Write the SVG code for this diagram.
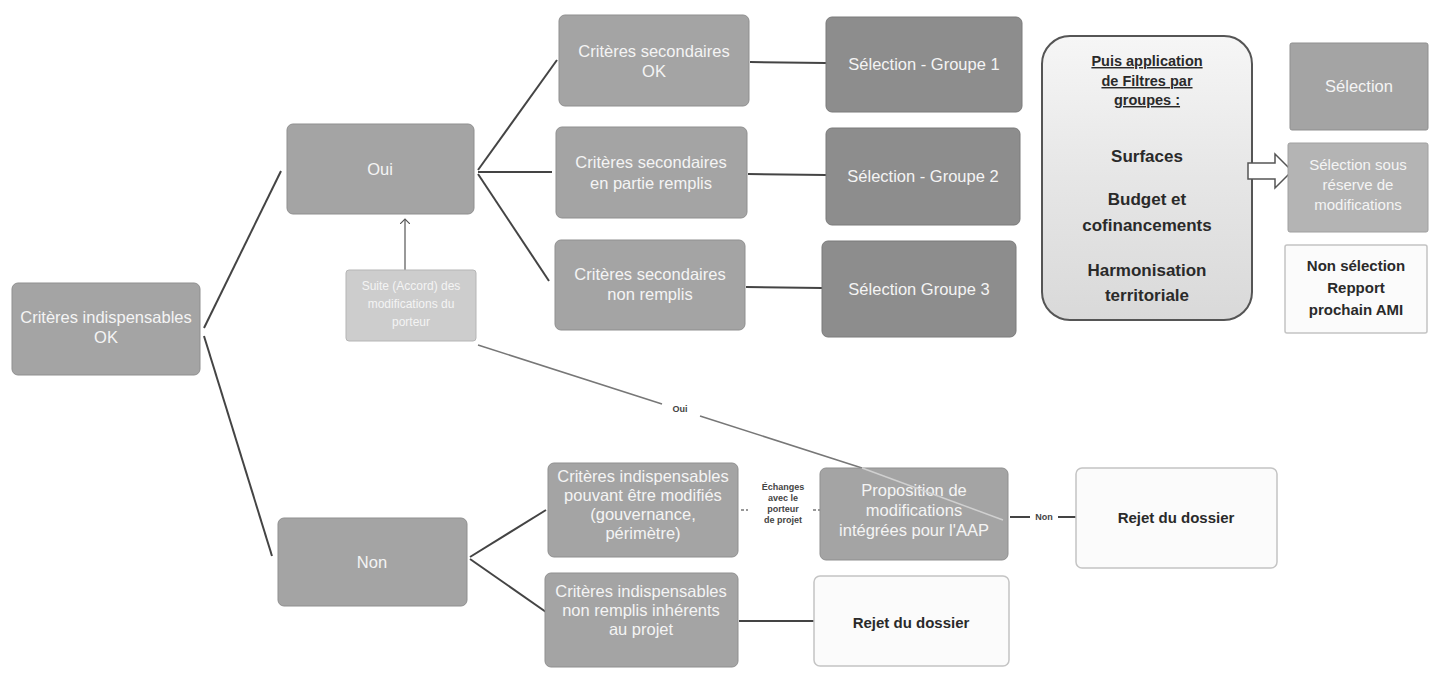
<svg xmlns="http://www.w3.org/2000/svg" width="1431" height="674" viewBox="0 0 1431 674">
<defs>
<style>
.n{fill:#a4a4a4;stroke:#8f8f8f;stroke-width:1}
.d{fill:#8d8d8d;stroke:#7a7a7a;stroke-width:1}
.l{fill:#cdcdcd;stroke:#b5b5b5;stroke-width:1}
.m{fill:#b4b4b4;stroke:#a0a0a0;stroke-width:1}
.w{fill:#fbfbfb;stroke:#c4c4c4;stroke-width:1.5}
.t{font-family:"Liberation Sans",Arial,sans-serif;font-size:16.5px;fill:#f4f4f4;text-anchor:middle}
.ts{font-family:"Liberation Sans",Arial,sans-serif;font-size:12px;fill:#f4f4f4;text-anchor:middle}
.b{font-family:"Liberation Sans",Arial,sans-serif;font-weight:bold;fill:#2a2a2a;text-anchor:middle}
.s{font-family:"Liberation Sans",Arial,sans-serif;font-size:9px;fill:#444;text-anchor:middle}
.c{stroke:#444;stroke-width:2;fill:none}
.cl{stroke:#777;stroke-width:1.5;fill:none}
</style>
<marker id="ah" markerWidth="10" markerHeight="10" refX="5" refY="5" orient="auto" markerUnits="userSpaceOnUse">
<path d="M0,0 L5,5 L0,10" fill="none" stroke="#555" stroke-width="1.2"/>
</marker>
<linearGradient id="fg" x1="0" y1="0" x2="0" y2="1">
<stop offset="0" stop-color="#f6f6f6"/>
<stop offset="0.5" stop-color="#e6e6e6"/>
<stop offset="1" stop-color="#d9d9d9"/>
</linearGradient>
</defs>
<rect width="1431" height="674" fill="#ffffff"/>
<g id="connectors">
<path class="c" d="M204,328 L281,171"/>
<path class="c" d="M204,336 L272,556"/>
<path class="c" d="M478,170 L557,60"/>
<path class="c" d="M478,172 L552,172"/>
<path class="c" d="M478,174 L549,281"/>
<path class="c" d="M750,62 L826,63"/>
<path class="c" d="M748,174 L826,175"/>
<path class="c" d="M746,287 L822,288"/>
<path class="c" d="M470,557 L546,510"/>
<path class="c" d="M470,559 L546,612"/>
<path class="c" d="M739,621 L814,621"/>
<path class="cl" d="M405,270 L405,219" marker-end="url(#ah)"/>
<path class="cl" d="M478,345 L662,404"/>
<path class="cl" d="M700,416 L862,468"/>
<text class="s" x="680" y="412" font-weight="bold">Oui</text>
<path class="cl" d="M741,510 L748,510" stroke-dasharray="3,2"/>
<path class="cl" d="M813,510 L820,510" stroke-dasharray="3,2"/>
<text class="s" x="783" y="490" font-weight="bold">Échanges</text>
<text class="s" x="783" y="501" font-weight="bold">avec le</text>
<text class="s" x="783" y="512" font-weight="bold">porteur</text>
<text class="s" x="783" y="523" font-weight="bold">de projet</text>
<path class="c" d="M1010,517 L1030,517" stroke-width="1.5"/>
<text class="s" x="1044" y="520" font-weight="bold">Non</text>
<path class="c" d="M1058,517 L1076,517" stroke-width="1.5"/>
</g>
<g id="n-crit-ok"><rect class="n" x="12" y="283" width="188" height="92" rx="6"/>
<text class="t" x="106" y="323">Critères indispensables</text><text class="t" x="106" y="343">OK</text></g>
<g id="n-oui"><rect class="n" x="287" y="124" width="187" height="90" rx="6"/>
<text class="t" x="380" y="175">Oui</text></g>
<g id="n-suite"><rect class="l" x="346" y="270" width="130" height="71" rx="3"/>
<text class="ts" x="411" y="290">Suite (Accord) des</text><text class="ts" x="411" y="308">modifications du</text><text class="ts" x="411" y="326">porteur</text></g>
<g id="n-sec-ok"><rect class="n" x="559" y="15" width="190" height="91" rx="6"/>
<text class="t" x="654" y="57">Critères secondaires</text><text class="t" x="654" y="77">OK</text></g>
<g id="n-sec-part"><rect class="n" x="556" y="127" width="191" height="91" rx="6"/>
<text class="t" x="651" y="168">Critères secondaires</text><text class="t" x="651" y="189">en partie remplis</text></g>
<g id="n-sec-non"><rect class="n" x="555" y="240" width="190" height="90" rx="6"/>
<text class="t" x="650" y="280">Critères secondaires</text><text class="t" x="650" y="300">non remplis</text></g>
<g id="n-g1"><rect class="d" x="826" y="17" width="196" height="95" rx="6"/>
<text class="t" x="924" y="70">Sélection - Groupe 1</text></g>
<g id="n-g2"><rect class="d" x="826" y="128" width="194" height="97" rx="6"/>
<text class="t" x="923" y="182">Sélection - Groupe 2</text></g>
<g id="n-g3"><rect class="d" x="822" y="241" width="194" height="96" rx="6"/>
<text class="t" x="919" y="295">Sélection Groupe 3</text></g>
<g id="n-filtres"><rect x="1042" y="36" width="210" height="284" rx="28" fill="url(#fg)" stroke="#555" stroke-width="2"/>
<text class="b" x="1147" y="66" font-size="14.5" text-decoration="underline">Puis application</text>
<text class="b" x="1147" y="86" font-size="14.5" text-decoration="underline">de Filtres par</text>
<text class="b" x="1147" y="105" font-size="14.5" text-decoration="underline">groupes :</text>
<text class="b" x="1147" y="162" font-size="17">Surfaces</text>
<text class="b" x="1147" y="205" font-size="17">Budget et</text>
<text class="b" x="1147" y="231" font-size="17">cofinancements</text>
<text class="b" x="1147" y="276" font-size="17">Harmonisation</text>
<text class="b" x="1147" y="301" font-size="17">territoriale</text></g>
<g id="n-arrow"><path d="M1248,163 L1275,163 L1275,154 L1292,171 L1275,188 L1275,179 L1248,179 Z" fill="#fff" stroke="#555" stroke-width="1.5"/></g>
<g id="n-sel"><rect class="n" x="1290" y="43" width="138" height="87" rx="2"/>
<text class="t" x="1359" y="92">Sélection</text></g>
<g id="n-sel-res"><rect class="m" x="1288" y="143" width="140" height="89" rx="2"/>
<text class="t" x="1358" y="170" style="font-size:15px">Sélection sous</text><text class="t" x="1358" y="190" style="font-size:15px">réserve de</text><text class="t" x="1358" y="210" style="font-size:15px">modifications</text></g>
<g id="n-nonsel"><rect class="w" x="1285" y="245" width="142" height="88" rx="2"/>
<text class="b" x="1356" y="271" font-size="15">Non sélection</text><text class="b" x="1356" y="293" font-size="15">Repport</text><text class="b" x="1356" y="315" font-size="15">prochain AMI</text></g>
<g id="n-non"><rect class="n" x="278" y="518" width="189" height="88" rx="6"/>
<text class="t" x="372" y="568">Non</text></g>
<g id="n-ind-mod"><rect class="n" x="548" y="463" width="190" height="94" rx="6"/>
<text class="t" x="643" y="482">Critères indispensables</text><text class="t" x="643" y="501">pouvant être modifiés</text><text class="t" x="643" y="520">(gouvernance,</text><text class="t" x="643" y="539">périmètre)</text></g>
<g id="n-ind-non"><rect class="n" x="545" y="573" width="193" height="94" rx="6"/>
<text class="t" x="641" y="597">Critères indispensables</text><text class="t" x="641" y="616">non remplis inhérents</text><text class="t" x="641" y="635">au projet</text></g>
<g id="n-prop"><rect class="n" x="820" y="468" width="188" height="92" rx="6"/>
<text class="t" x="914" y="496">Proposition de</text><text class="t" x="914" y="516">modifications</text><text class="t" x="914" y="536">intégrées pour l'AAP</text></g>
<path d="M862,468 L1003,520" stroke="#d0d0d0" stroke-width="1.5" fill="none"/>
<g id="n-rejet1"><rect class="w" x="1076" y="468" width="201" height="100" rx="6"/>
<text class="b" x="1176" y="523" font-size="15">Rejet du dossier</text></g>
<g id="n-rejet2"><rect class="w" x="814" y="576" width="195" height="90" rx="6"/>
<text class="b" x="911" y="628" font-size="15">Rejet du dossier</text></g>
</svg>
